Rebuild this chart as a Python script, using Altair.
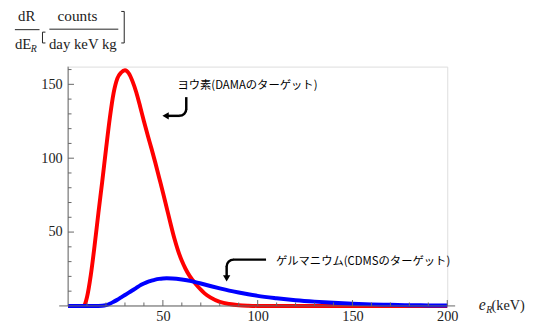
import altair as alt
import pandas as pd

# ---- data ----
e_iodine = [0, 5, 8, 9, 10, 12, 14, 16, 18, 20, 22, 24, 26, 28, 30, 32, 34, 36, 38, 40,
            42, 44, 46, 48, 50, 52, 54, 56, 58, 60, 62, 64, 66, 68, 70, 72, 75, 80, 85,
            90, 95, 100, 120, 150, 200]
iodine = [0, 0, 0, 1.5, 6, 21, 41, 63, 84, 106, 127, 144, 154, 158, 159.5, 157.5, 152, 144.5, 135, 125,
          115.5, 106.5, 97, 87, 77, 66.5, 56, 46, 37.5, 30.5, 25, 20.5, 17, 13.8, 11, 8.5, 5.8, 2.8, 1.3,
          0.5, 0.15, 0, 0, 0, 0]

e_germanium = [0, 10, 16, 18, 20, 22, 24, 26, 28, 30, 32, 34, 36, 38, 40, 42, 44, 46, 48, 50,
               52, 55, 60, 65, 70, 75, 80, 85, 90, 95, 100, 110, 120, 130, 140, 150, 160, 170,
               180, 190, 200]
germanium = [0, 0, 0, 0.1, 0.5, 1.5, 2.8, 4.2, 5.8, 7.4, 9.0, 10.6, 12.2, 13.9, 15.2, 16.3, 17.1, 17.8, 18.3, 18.6,
             18.7, 18.6, 17.9, 16.8, 15.2, 13.5, 11.9, 10.4, 9.1, 7.9, 6.8, 5.2, 3.9, 2.9, 2.1, 1.5, 1.05, 0.75,
             0.5, 0.35, 0.25]

x_major = [50, 100, 150, 200]
x_minor = [10, 20, 30, 40, 60, 70, 80, 90, 110, 120, 130, 140, 160, 170, 180, 190]
y_major = [50, 100, 150]
y_minor = [10, 20, 30, 40, 60, 70, 80, 90, 110, 120, 130, 140, 160]

label_iodine = "ヨウ素(DAMAのターゲット)"
label_germanium = "ゲルマニウム(CDMSのターゲット)"

W, H = 385, 243
AX = "#666666"
SERIF = "Liberation Serif"
JP = "Noto Sans CJK JP"

xs = alt.Scale(domain=[0, 200], nice=False, zero=False)
ys = alt.Scale(domain=[0, 162], nice=False, zero=False)

df_i = pd.DataFrame({"e": e_iodine, "r": iodine})
df_g = pd.DataFrame({"e": e_germanium, "r": germanium})

one = alt.Data(values=[{"k": 0}])

x_axis = alt.Axis(values=x_major, grid=False, domain=False, ticks=False, tickSize=0,
                  labelPadding=4, labelFont=SERIF, labelFontSize=14.5, labelColor="#222222",
                  labelFlush=False, title=None)
y_axis = alt.Axis(values=y_major, grid=False, domain=False, ticks=False, tickSize=0,
                  labelPadding=6, labelFont=SERIF, labelFontSize=14.5, labelColor="#222222",
                  labelFlush=False, title=None)

red = alt.Chart(df_i).mark_line(color="#ff0000", strokeWidth=4, interpolate="monotone").encode(
    x=alt.X("e:Q", scale=xs, axis=x_axis),
    y=alt.Y("r:Q", scale=ys, axis=y_axis),
)
blue = alt.Chart(df_g).mark_line(color="#0000ff", strokeWidth=4, interpolate="monotone").encode(
    x=alt.X("e:Q", scale=xs, axis=x_axis),
    y=alt.Y("r:Q", scale=ys, axis=y_axis),
)

# axis lines
x_line = alt.Chart(one).mark_rule(color=AX, strokeWidth=1).encode(
    x=alt.value(-9), x2=alt.value(W + 8), y=alt.value(H))
y_line = alt.Chart(one).mark_rule(color=AX, strokeWidth=1).encode(
    x=alt.value(0), y=alt.value(0), y2=alt.value(H))

# inward ticks
xt_major = alt.Chart(pd.DataFrame({"e": x_major})).mark_rule(color=AX, strokeWidth=1).encode(
    x=alt.X("e:Q", scale=xs, axis=x_axis), y=alt.value(H), y2=alt.value(H - 6))
xt_minor = alt.Chart(pd.DataFrame({"e": x_minor})).mark_rule(color=AX, strokeWidth=1).encode(
    x=alt.X("e:Q", scale=xs, axis=x_axis), y=alt.value(H), y2=alt.value(H - 3.5))
yt_major = alt.Chart(pd.DataFrame({"r": y_major})).mark_rule(color=AX, strokeWidth=1).encode(
    y=alt.Y("r:Q", scale=ys, axis=y_axis), x=alt.value(0), x2=alt.value(6))
yt_minor = alt.Chart(pd.DataFrame({"r": y_minor})).mark_rule(color=AX, strokeWidth=1).encode(
    y=alt.Y("r:Q", scale=ys, axis=y_axis), x=alt.value(0), x2=alt.value(3.5))


def txt(s, x, y, size, style="normal", font=SERIF, align="left", baseline="alphabetic", color="#222222"):
    return alt.Chart(one).mark_text(text=s, font=font, fontSize=size, fontStyle=style, align=align,
                                    baseline=baseline, color=color).encode(
        x=alt.value(x), y=alt.value(y))


def seg(x1, y1, x2, y2, w=1, color="#222222"):
    return alt.Chart(one).mark_rule(color=color, strokeWidth=w).encode(
        x=alt.value(x1), y=alt.value(y1), x2=alt.value(x2), y2=alt.value(y2))


# x-axis title  e_R(keV)
xtitle = [
    txt("e", 417, 247, 16, style="italic"),
    txt("R", 424.5, 250.5, 10, style="italic"),
    txt("(keV)", 430, 247, 14.5),
]

# y-axis title  dR/dE_R [counts / day keV kg]
ytitle = [
    txt("dR", -42, -46.5, 15, align="center"),
    seg(-54, -37.5, -29, -37.5),
    txt("dE", -54, -17.5, 15),
    txt("R", -38, -15, 10, style="italic"),
    seg(-26, -35, -26, -24), seg(-26, -35, -23, -35), seg(-26, -24, -23, -24),
    txt("counts", 9.5, -46.5, 15.5, align="center"),
    seg(-19, -38, 51, -38),
    txt("day keV kg", 15, -18, 15, align="center"),
    seg(57, -56, 57, -24), seg(54, -56, 57, -56), seg(54, -24, 57, -24),
]

# annotations with curved arrows
K = "#000000"
annot = [
    txt(label_iodine, 111, 20, 11.5, font=JP, baseline="middle", color=K),
    seg(120, 31, 120, 43.5, w=2.5, color=K),
    alt.Chart(one).mark_arc(color=K, radius=8.25, radius2=5.75, theta=1.5708, theta2=3.1416).encode(
        x=alt.value(113), y=alt.value(43)),
    seg(113.5, 50, 101, 50, w=2.5, color=K),
    alt.Chart(one).mark_point(shape="triangle-left", filled=True, size=55, color=K, opacity=1).encode(
        x=alt.value(99), y=alt.value(50)),

    txt(label_germanium, 211, 198, 11.5, font=JP, baseline="middle", color=K),
    seg(201, 196, 167.5, 196, w=2.5, color=K),
    alt.Chart(one).mark_arc(color=K, radius=8.25, radius2=5.75, theta=4.7124, theta2=6.2832).encode(
        x=alt.value(168), y=alt.value(203)),
    seg(161, 202.5, 161, 213, w=2.5, color=K),
    alt.Chart(one).mark_point(shape="triangle-down", filled=True, size=55, color=K, opacity=1).encode(
        x=alt.value(161), y=alt.value(215)),
]

chart = alt.layer(
    red, blue, x_line, y_line, xt_major, xt_minor, yt_major, yt_minor, *xtitle, *ytitle, *annot
).properties(
    width=W, height=H,
    padding={"left": 61, "top": 57, "right": 84, "bottom": 26},
    autosize=alt.AutoSizeParams(type="none"),
).configure_view(stroke=None).configure(background="white")

chart.save("out.html", embed_options={"renderer": "svg", "actions": False})
